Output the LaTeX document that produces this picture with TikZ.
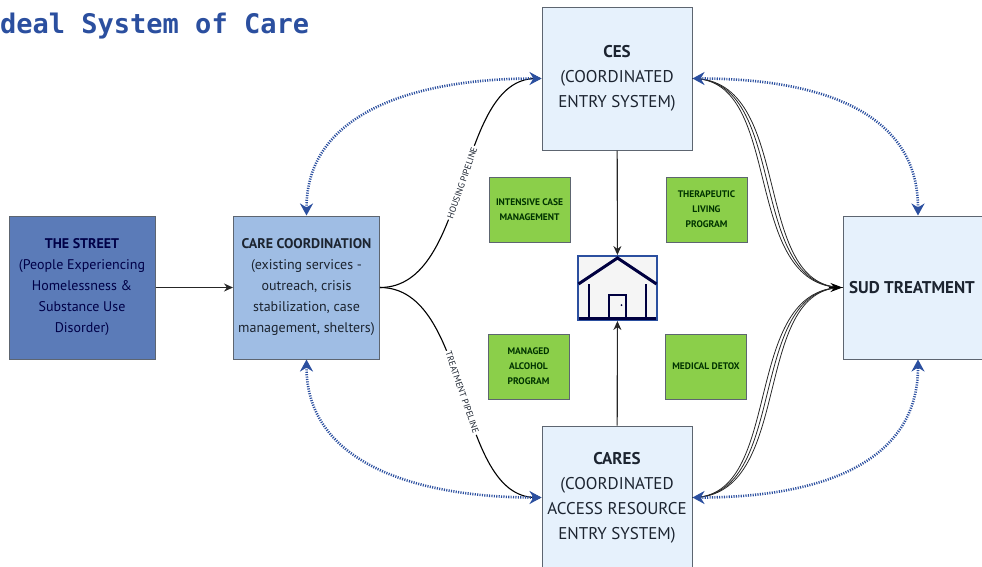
\documentclass[tikz,border=0pt]{standalone}
\usepackage{fontspec}
\setmainfont{PT Sans}
\newfontfamily\titlefont{DejaVu Sans Mono}
\usetikzlibrary{arrows.meta}

\definecolor{careblue}{HTML}{2B4F9F}
\definecolor{streetfill}{HTML}{5B7BB8}
\definecolor{coordfill}{HTML}{9FBDE4}
\definecolor{palefill}{HTML}{E6F1FC}
\definecolor{greenfill}{HTML}{8BCF4A}
\definecolor{boxline}{HTML}{5D6570}
\definecolor{inktext}{HTML}{1C2430}

\begin{document}
\begin{tikzpicture}[
	x = 1pt, y = -1pt,
	box/.style = {draw = boxline, line width = 1pt, inner sep = 0pt, align = center, text = inktext, minimum width = 146pt, minimum height = 143pt, font = \fontsize{14}{21}\selectfont},
	bigbox/.style = {box, fill = palefill, minimum width = 150pt, font = \fontsize{17}{25}\selectfont},
	greenbox/.style = {draw = boxline, fill = greenfill, line width = 1pt, inner sep = 0pt, align = center, text = black!80!green, minimum width = 81pt, minimum height = 65pt, font = \bfseries\fontsize{9.5}{15}\selectfont},
	link/.style = {draw = black!85, line width = 1.1pt, -{Stealth[length = 9pt, width = 8pt]}},
	pipe/.style = {draw = black, line width = 1.1pt},
	tag/.style = {fill = white, inner sep = 1.5pt, sloped, text = inktext, font = \fontsize{9}{9}\selectfont},
	strand/.style = {draw = black!85, line width = .8pt},
	dots/.style = {draw = careblue, line width = 2.6pt, dash pattern = on 1.1pt off 1.3pt, {Stealth[length = 12pt, width = 13pt, fill = careblue]}-{Stealth[length = 12pt, width = 13pt, fill = careblue]}},
	roof/.style = {draw = black!75!blue, line width = 3pt},
	wall/.style = {draw = black!75!blue, line width = 2pt}
	]
	\clip (0,0) rectangle (982,566);

	\node[anchor = west, text = careblue, inner sep = 0pt, font = \titlefont\bfseries\fontsize{27}{27}\selectfont] (title) at (0,26) {deal System of Care};

	\node[box, fill = streetfill, text = black!20!blue!35!black] (street) at (82,287.5) {\textbf{THE STREET}\\(People Experiencing\\Homelessness \&\\Substance Use\\Disorder)};
	\node[box, fill = coordfill] (care) at (306.5,287.5) {\textbf{CARE COORDINATION}\\(existing services -\\outreach, crisis\\stabilization, case\\management, shelters)};
	\node[bigbox] (ces) at (617,78.5) {\textbf{CES}\\(COORDINATED\\ENTRY SYSTEM)};
	\node[bigbox] (cares) at (617,497.5) {\textbf{CARES}\\(COORDINATED\\ACCESS RESOURCE\\ENTRY SYSTEM)};
	\node[bigbox] (sud) at (918,287.5) {\hspace*{-12pt}\textbf{SUD TREATMENT}};

	\node[greenbox] (icm) at (529.5,209.5) {INTENSIVE CASE\\MANAGEMENT};
	\node[greenbox] (tlp) at (706.5,209.5) {THERAPEUTIC\\LIVING\\PROGRAM};
	\node[greenbox] (map) at (528.5,366.5) {MANAGED\\ALCOHOL\\PROGRAM};
	\node[greenbox] (detox) at (706,366.5) {MEDICAL DETOX};

	% house
	\node[draw = careblue, fill = black!4, line width = 2pt, inner sep = 0pt, minimum width = 79pt, minimum height = 64pt] (house) at (617.5,288) {};
	\draw[wall] (589,284) -- (589,317) (646,284) -- (646,317);
	\draw[wall] (609,318) -- (609,295) -- (626,295) -- (626,318);
	\draw[roof] (578.5,284) -- (617.5,258) -- (656.5,284);
	\draw[roof] (579,318) -- (656,318);
	\fill[black!75!blue] (621.5,305) circle (1pt);

	\draw[link] (street) -- (care);
	\draw[link] (ces) -- (house);
	\draw[link] (cares) -- (house);

	% pipelines
	\draw[pipe, -{Stealth[length = 9pt, width = 8pt]}] (care.east) .. controls +(91,0) and +(-87,0) .. node[tag, pos = .5] {HOUSING PIPELINE} (ces.west);
	\draw[pipe, -{Stealth[length = 9pt, width = 8pt]}] (care.east) .. controls +(91,0) and +(-87,0) .. node[tag, pos = .5] {TREATMENT PIPELINE} (cares.west);

	% strands to SUD
	\foreach \offset in {-5,0,5} {
		\draw[strand] (ces.east) .. controls +(98+\offset,0) and +(-98+\offset,0) .. (sud.west);
		\draw[strand] (cares.east) .. controls +(98+\offset,0) and +(-98+\offset,0) .. (sud.west);
	}
	\draw[-{Stealth[length = 12pt, width = 9pt]}, black, line width = 1.1pt] ([xshift = -14pt]sud.west) -- (sud.west);

	% dotted loops
	\draw[dots] (care.north) .. controls +(0,-106) and +(-120,0) .. (ces.west);
	\draw[dots] (ces.east) .. controls +(123,0) and +(0,-106) .. (sud.north);
	\draw[dots] (care.south) .. controls +(0,106) and +(-120,0) .. (cares.west);
	\draw[dots] (cares.east) .. controls +(123,0) and +(0,106) .. (sud.south);
\end{tikzpicture}
\end{document}
